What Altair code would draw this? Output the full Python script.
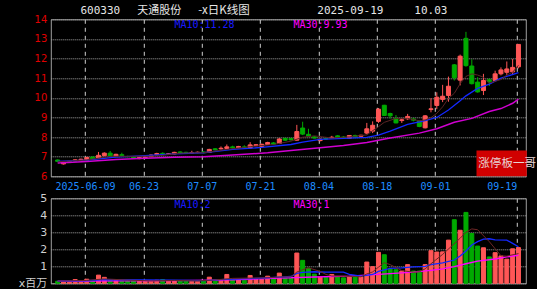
import altair as alt
import pandas as pd

# ---------------- data ----------------
dates = ["2025-05-30", "2025-06-03", "2025-06-04", "2025-06-05", "2025-06-06",
         "2025-06-09", "2025-06-10", "2025-06-11", "2025-06-12", "2025-06-13",
         "2025-06-16", "2025-06-17", "2025-06-18", "2025-06-19", "2025-06-20",
         "2025-06-23", "2025-06-24", "2025-06-25", "2025-06-26", "2025-06-27",
         "2025-06-30", "2025-07-01", "2025-07-02", "2025-07-03", "2025-07-04",
         "2025-07-07", "2025-07-08", "2025-07-09", "2025-07-10", "2025-07-11",
         "2025-07-14", "2025-07-15", "2025-07-16", "2025-07-17", "2025-07-18",
         "2025-07-21", "2025-07-22", "2025-07-23", "2025-07-24", "2025-07-25",
         "2025-07-28", "2025-07-29", "2025-07-30", "2025-07-31", "2025-08-01",
         "2025-08-04", "2025-08-05", "2025-08-06", "2025-08-07", "2025-08-08",
         "2025-08-11", "2025-08-12", "2025-08-13", "2025-08-14", "2025-08-15",
         "2025-08-18", "2025-08-19", "2025-08-20", "2025-08-21", "2025-08-22",
         "2025-08-25", "2025-08-26", "2025-08-27", "2025-08-28", "2025-08-29",
         "2025-09-01", "2025-09-02", "2025-09-03", "2025-09-04", "2025-09-05",
         "2025-09-08", "2025-09-09", "2025-09-10", "2025-09-11", "2025-09-12",
         "2025-09-15", "2025-09-16", "2025-09-17", "2025-09-18", "2025-09-19"]

opens = [6.83, 6.63, 6.70, 6.78, 6.81, 6.82, 6.98, 6.93, 7.05, 7.18,
         7.02, 7.10, 7.01, 6.96, 6.90, 6.95, 7.00, 7.10, 7.17, 7.12,
         7.14, 7.24, 7.22, 7.18, 7.22, 7.24, 7.22, 7.40, 7.40, 7.42,
         7.50, 7.45, 7.50, 7.44, 7.56, 7.52, 7.62, 7.70, 7.67, 7.93,
         7.92, 7.84, 8.46, 8.14, 8.01, 7.82, 7.93, 7.96, 8.06, 8.00,
         7.94, 8.08, 8.04, 8.20, 8.30, 8.80, 9.62, 9.20, 8.95, 8.84,
         8.93, 8.92, 8.82, 8.47, 9.40, 9.61, 9.92, 10.12, 11.68, 10.90,
         13.03, 11.62, 10.80, 10.37, 10.92, 10.88, 11.22, 11.30, 11.32, 11.58]

closes = [6.76, 6.70, 6.76, 6.84, 6.87, 6.96, 6.89, 7.07, 7.18, 7.03,
          7.12, 7.06, 7.00, 6.91, 6.95, 6.98, 7.08, 7.16, 7.12, 7.15,
          7.22, 7.19, 7.18, 7.21, 7.22, 7.20, 7.37, 7.35, 7.43, 7.50,
          7.45, 7.52, 7.46, 7.60, 7.61, 7.63, 7.72, 7.64, 7.90, 7.84,
          7.86, 8.28, 8.15, 8.05, 7.95, 7.89, 7.90, 7.99, 7.99, 7.98,
          8.08, 8.00, 8.09, 8.42, 8.60, 9.42, 9.10, 9.08, 8.72, 8.88,
          9.05, 8.86, 8.54, 9.08, 9.44, 10.03, 10.08, 10.59, 11.02, 12.12,
          11.64, 10.72, 10.30, 10.88, 10.82, 11.22, 11.42, 11.47, 11.55, 12.72]

highs = [6.86, 6.72, 6.78, 6.86, 6.90, 6.99, 7.01, 7.24, 7.22, 7.29,
         7.15, 7.20, 7.05, 6.99, 6.98, 7.02, 7.12, 7.20, 7.22, 7.18,
         7.25, 7.27, 7.25, 7.30, 7.26, 7.28, 7.40, 7.44, 7.52, 7.62,
         7.56, 7.55, 7.58, 7.74, 7.64, 7.66, 7.76, 7.74, 7.95, 7.97,
         7.96, 8.62, 8.78, 8.42, 8.05, 7.93, 7.96, 8.06, 8.10, 8.05,
         8.10, 8.12, 8.12, 8.72, 8.80, 9.48, 9.64, 9.24, 9.12, 8.96,
         9.18, 8.98, 8.84, 9.12, 9.98, 10.28, 10.66, 11.08, 11.72, 12.20,
         13.36, 11.96, 11.05, 11.22, 10.98, 11.38, 11.55, 11.85, 11.98, 12.74]

lows = [6.72, 6.60, 6.68, 6.76, 6.79, 6.80, 6.86, 6.91, 7.02, 7.00,
        7.00, 7.03, 6.97, 6.88, 6.87, 6.92, 6.98, 7.07, 7.09, 7.10,
        7.12, 7.16, 7.15, 7.14, 7.18, 7.17, 7.20, 7.32, 7.36, 7.40,
        7.42, 7.43, 7.44, 7.42, 7.54, 7.50, 7.60, 7.60, 7.64, 7.80,
        7.82, 7.82, 8.10, 8.02, 7.92, 7.78, 7.86, 7.93, 7.96, 7.94,
        7.92, 7.97, 8.01, 8.14, 8.20, 8.72, 9.08, 8.94, 8.70, 8.72,
        8.88, 8.80, 8.50, 8.44, 9.26, 9.42, 9.78, 9.80, 10.88, 10.63,
        11.58, 10.68, 10.26, 10.14, 10.60, 10.84, 11.14, 11.14, 11.18, 11.50]

volumes = [0.12, 0.10, 0.12, 0.22, 0.15, 0.24, 0.14, 0.48, 0.35, 0.18,
           0.15, 0.12, 0.14, 0.14, 0.12, 0.13, 0.16, 0.18, 0.22, 0.12,
           0.16, 0.15, 0.15, 0.13, 0.12, 0.14, 0.36, 0.20, 0.18, 0.52,
           0.20, 0.20, 0.18, 0.46, 0.22, 0.22, 0.42, 0.30, 0.60, 0.30,
           0.30, 1.78, 1.35, 0.88, 0.54, 0.36, 0.35, 0.52, 0.38, 0.32,
           0.38, 0.38, 0.38, 1.25, 0.98, 1.82, 1.68, 0.84, 0.80, 0.72,
           1.10, 0.72, 0.72, 1.10, 1.92, 1.84, 1.85, 2.54, 3.74, 3.12,
           4.17, 2.93, 2.19, 2.09, 1.55, 1.80, 1.61, 1.42, 2.03, 2.10]

# moving-average lines (day index, value)
ma5_day = [0, 5, 9, 13, 17, 21, 25, 29, 33, 37, 40, 42, 44, 47, 50, 53, 55, 56, 58, 60,
           62, 63, 64, 65, 66, 67, 68, 69, 70, 71, 72, 73, 74, 75, 76, 77, 78, 79]
ma5_val = [6.74, 6.83, 7.02, 7.02, 7.03, 7.18, 7.20, 7.37, 7.51, 7.62, 7.79, 7.99, 8.06, 7.95,
           8.01, 8.11, 8.53, 8.75, 8.95, 8.95, 8.83, 8.87, 8.99, 9.21, 9.54, 9.97, 10.23,
           10.72, 11.09, 11.22, 11.16, 11.05, 10.75, 10.84, 10.93, 11.16, 11.30, 11.66]
ma10_day = [0, 5, 10, 15, 20, 25, 30, 35, 40, 42, 45, 50, 53, 55, 57, 60, 63, 65, 67, 69,
            70, 72, 74, 76, 79]
ma10_val = [6.76, 6.82, 6.98, 7.05, 7.14, 7.20, 7.37, 7.47, 7.62, 7.74, 7.88, 7.95, 7.98,
            8.10, 8.30, 8.64, 8.84, 9.00, 9.38, 9.85, 10.10, 10.48, 10.70, 11.00, 11.28]
ma30_day = [0, 5, 10, 15, 20, 25, 30, 36, 40, 45, 49, 53, 57, 62, 65, 68, 71, 74, 76, 78, 79]
ma30_val = [6.68, 6.75, 6.86, 6.92, 6.97, 7.00, 7.08, 7.20, 7.32, 7.45, 7.57, 7.72, 7.95,
            8.20, 8.42, 8.75, 8.95, 9.30, 9.45, 9.72, 9.93]

vma5_day = [0, 5, 8, 12, 16, 20, 24, 27, 30, 33, 36, 38, 40, 41, 42, 43, 45, 46, 47, 49,
            51, 52, 53, 54, 55, 56, 57, 59, 61, 62, 63, 64, 66, 69, 70, 71, 72, 74, 76, 77, 79]
vma5_val = [0.13, 0.17, 0.26, 0.19, 0.14, 0.17, 0.14, 0.20, 0.29, 0.31, 0.32, 0.37, 0.38,
            0.66, 0.80, 0.91, 0.70, 0.52, 0.43, 0.42, 0.40, 0.38, 0.55, 0.67, 0.95, 1.21,
            1.10, 0.75, 0.65, 0.68, 0.85, 1.15, 1.70, 2.65, 3.00, 3.20, 3.15, 2.45, 1.62,
            1.60, 1.75]
vma10_day = [0, 5, 8, 15, 20, 25, 28, 33, 38, 40, 41, 42, 44, 46, 49, 50, 52, 54, 55, 57,
             59, 61, 63, 64, 66, 68, 69, 70, 71, 72, 73, 74, 75, 77, 78, 79]
vma10_val = [0.13, 0.15, 0.22, 0.20, 0.18, 0.16, 0.22, 0.27, 0.36, 0.40, 0.58, 0.64, 0.68,
             0.66, 0.66, 0.52, 0.42, 0.52, 0.70, 0.88, 0.91, 0.97, 1.00, 1.10, 1.20, 1.37,
             1.60, 1.90, 2.25, 2.45, 2.60, 2.62, 2.55, 2.54, 2.35, 2.15]
vma30_day = [0, 10, 20, 30, 38, 44, 50, 55, 61, 64, 66, 68, 70, 72, 75, 77, 79]
vma30_val = [0.12, 0.14, 0.16, 0.20, 0.30, 0.37, 0.42, 0.52, 0.66, 0.76, 0.85, 0.98, 1.15,
             1.31, 1.43, 1.55, 1.65]

label_days = [5, 15, 25, 35, 45, 55, 65, 79]
label_text = ["2025-06-09", "06-23", "07-07", "07-21", "08-04", "08-18", "09-01", "09-19"]
price_ticks = [6, 7, 8, 9, 10, 11, 12, 13, 14]
vol_ticks = [0, 1, 2, 3, 4, 5]

title_code = ["600330"]
title_name = ["天通股份"]
title_kind = ["-x日K线图"]
title_date = ["2025-09-19"]
title_value = ["10.03"]
ma_labels_top = ["MA10:11.28", "MA30:9.93"]
ma_labels_bot = ["MA10:2", "MA30:1"]
badge_text = ["涨停板一哥"]

# ---------------- frames ----------------
df = pd.DataFrame({"i": list(range(len(dates))), "date": dates, "open": opens,
                   "close": closes, "high": highs, "low": lows, "vol": volumes})
df["dir"] = ["up" if c >= o else "down" for o, c in zip(opens, closes)]

def line_df(days, vals):
    return pd.DataFrame({"i": days, "v": vals})

RED = "#ff5656"
GREEN = "#00aa00"
BLUE = "#1428ff"
MAG = "#d000d0"

W, H1, H2 = 475, 157, 85
tick_vals = [d - 0.3 for d in label_days]
expr = ""
for v, t in zip(tick_vals, label_text):
    expr += f"abs(datum.value - {v:.2f}) < 0.05 ? '{t}' : "
expr += "''"

xscale = alt.Scale(domain=[-0.32, 79.4], nice=False, zero=False)
x_top = alt.X("i:Q", scale=xscale, title=None,
              axis=alt.Axis(values=tick_vals, labelExpr=expr, grid=True, gridDash=[4, 4],
                            gridColor="#d0d0d0", ticks=False, domain=False,
                            labelColor="#1e8cff", labelFont="DejaVu Sans Mono",
                            labelFontSize=10, labelPadding=5, labelFlush=10,
                            labelOverlap=False))
x_bot = alt.X("i:Q", scale=xscale, title=None,
              axis=alt.Axis(values=tick_vals, labels=False, grid=True, gridDash=[4, 4],
                            gridColor="#d0d0d0", ticks=False, domain=False))

yscale1 = alt.Scale(domain=[6, 14], nice=False, zero=False)
yaxis1 = alt.Axis(values=price_ticks, grid=True, gridDash=[1, 1], gridColor="#a8a8a8",
                  ticks=False, domain=False, labelColor="#e00000", labelFont="DejaVu Sans",
                  labelFontSize=10, labelPadding=4, title=None)
yscale2 = alt.Scale(domain=[0, 5], nice=False, zero=True)
yaxis2 = alt.Axis(values=vol_ticks, grid=True, gridDash=[1, 1], gridColor="#a8a8a8",
                  ticks=False, domain=False, labelColor="#d0d0d0",
                  labelFont="DejaVu Sans, Noto Sans CJK SC",
                  labelFontSize=11, labelPadding=4, title=None,
                  labelExpr="datum.value == 0 ? 'x百万' : datum.label")

col = alt.Color("dir:N", scale=alt.Scale(domain=["up", "down"], range=[RED, GREEN]), legend=None)
stk = alt.Stroke("dir:N", scale=alt.Scale(domain=["up", "down"], range=[RED, GREEN]), legend=None)

base = alt.Chart(df)
wicks = base.mark_rule(strokeWidth=1).encode(
    x=x_top, y=alt.Y("low:Q", scale=yscale1, axis=yaxis1), y2="high:Q", color=col)
bodies = base.mark_bar(size=4, strokeWidth=1).encode(
    x=x_top, y=alt.Y("open:Q", scale=yscale1, axis=yaxis1), y2="close:Q", color=col, stroke=stk)

def mline(days, vals, color, width, xenc, yscale, yaxis):
    return alt.Chart(line_df(days, vals)).mark_line(color=color, strokeWidth=width).encode(
        x=xenc, y=alt.Y("v:Q", scale=yscale, axis=yaxis))

p_ma5 = mline(ma5_day, ma5_val, "#5a2424", 1, x_top, yscale1, yaxis1)
p_ma10 = mline(ma10_day, ma10_val, BLUE, 1.3, x_top, yscale1, yaxis1)
p_ma30 = mline(ma30_day, ma30_val, MAG, 1.5, x_top, yscale1, yaxis1)

def txt(values, x, y, color, size, font, align="left"):
    return alt.Chart(pd.DataFrame({"t": values})).mark_text(
        align=align, baseline="middle", color=color, fontSize=size, font=font).encode(
        x=alt.value(x), y=alt.value(y), text="t:N")

MONO = "DejaVu Sans Mono, Noto Sans CJK SC"
CJK = "Noto Sans CJK SC"
t1 = txt(title_code, 29.7, -8.5, "#e6e6e6", 11, MONO)
t2 = txt(title_name, 86.5, -8.5, "#e6e6e6", 11, CJK)
t3 = txt(title_kind, 147.5, -8.5, "#e6e6e6", 11.5, CJK)
t4 = txt(title_date, 266.5, -8.5, "#e6e6e6", 11, MONO)
t5 = txt(title_value, 363.5, -8.5, "#e6e6e6", 11, MONO)
m1 = txt(ma_labels_top[:1], 123.7, 5.5, "#1a1aff", 10, MONO)
m2 = txt(ma_labels_top[1:], 242.7, 5.5, "#ff00ff", 10, MONO)

badge_df = pd.DataFrame({"t": badge_text})
badge_box = alt.Chart(badge_df).mark_rect(color="#d00000").encode(
    x=alt.value(425.7), x2=alt.value(476), y=alt.value(131.3), y2=alt.value(157))
badge_lbl = txt(badge_text, 427.5, 144.5, "#e8d4d4", 11.6, CJK)

top = alt.layer(wicks, bodies, p_ma30, p_ma10, p_ma5, t1, t2, t3, t4, t5, m1, m2,
                badge_box, badge_lbl).properties(width=W, height=H1)

vbars = base.mark_bar(size=4, strokeWidth=1).encode(
    x=x_bot, y=alt.Y("vol:Q", scale=yscale2, axis=yaxis2), color=col, stroke=stk)
v_ma5 = mline(vma5_day, vma5_val, "#6e2626", 1, x_bot, yscale2, yaxis2)
v_ma10 = mline(vma10_day, vma10_val, BLUE, 1.3, x_bot, yscale2, yaxis2)
v_ma30 = mline(vma30_day, vma30_val, "#ff00ff", 1.3, x_bot, yscale2, yaxis2)
b1 = txt(ma_labels_bot[:1], 123.7, 7, "#1a1aff", 10, MONO)
b2 = txt(ma_labels_bot[1:], 242.7, 7, "#ff00ff", 10, MONO)

bottom = alt.layer(vbars, v_ma30, v_ma10, v_ma5, b1, b2).properties(width=W, height=H2)

chart = alt.vconcat(top, bottom, spacing=22, bounds="flush").properties(
    autosize=alt.AutoSizeParams(type="pad"),
    padding={"left": 16.8, "top": 4.3, "right": 0, "bottom": 0},
).configure(background="#000000").configure_view(stroke="#a0a0a0", strokeWidth=1)

chart.save("out.html", embed_options={"renderer": "svg", "actions": False})
